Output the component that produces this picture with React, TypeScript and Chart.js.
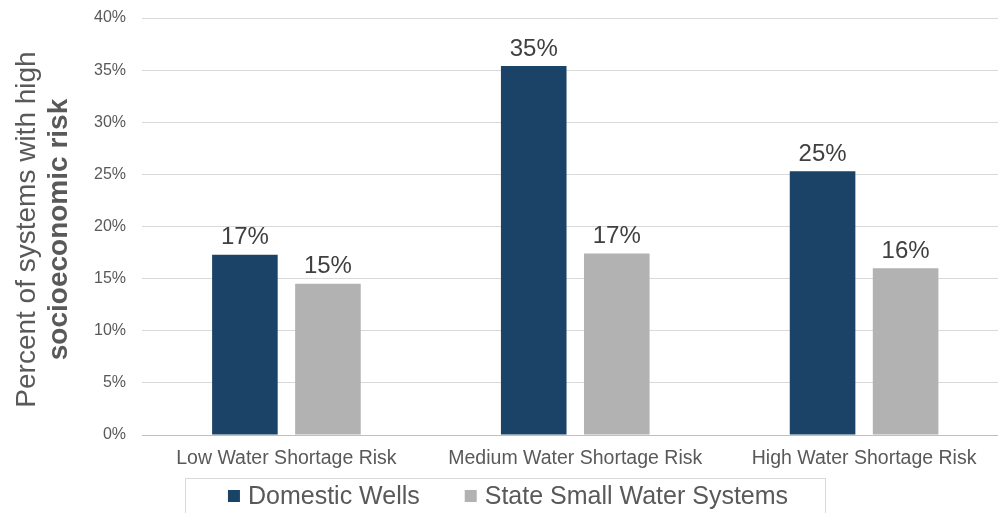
import React, { useEffect, useRef } from "react";
import { Chart, registerables } from "chart.js";

Chart.register(...registerables);

const categories = ["Low Water Shortage Risk", "Medium Water Shortage Risk", "High Water Shortage Risk"];
const domesticWells = [17.3, 35.4, 25.3];
const stateSmallWaterSystems = [14.5, 17.4, 16.0];
const seriesNames = ["Domestic Wells", "State Small Water Systems"];
const yTitleLines = ["Percent of systems with high", "socioeconomic risk"];
const yMin = 0;
const yMax = 40;
const yStep = 5;

const FONT = "'Liberation Sans', Arial, sans-serif";
const TEXT = "#595959";

const valueLabels = {
  id: "valueLabels",
  afterDatasetsDraw(chart: any) {
    const ctx = chart.ctx;
    ctx.save();
    ctx.font = `24px ${FONT}`;
    ctx.fillStyle = "#404040";
    ctx.textAlign = "center";
    ctx.textBaseline = "bottom";
    chart.data.datasets.forEach((ds: any, di: number) => {
      const meta = chart.getDatasetMeta(di);
      meta.data.forEach((bar: any, i: number) => {
        ctx.fillText(Math.round(ds.data[i]) + "%", bar.x, bar.y - 5);
      });
    });
    ctx.restore();
  },
};

const yTitle = {
  id: "yTitle",
  afterDraw(chart: any) {
    const ctx = chart.ctx;
    const { top, bottom } = chart.chartArea;
    const cy = (top + bottom) / 2 + 3;
    ctx.save();
    ctx.translate(0, cy);
    ctx.rotate(-Math.PI / 2);
    ctx.fillStyle = TEXT;
    ctx.textAlign = "center";
    ctx.textBaseline = "middle";
    ctx.font = `28px ${FONT}`;
    ctx.fillText(yTitleLines[0], 0, 27);
    ctx.font = `bold 28px ${FONT}`;
    ctx.fillText(yTitleLines[1], 0, 59);
    ctx.restore();
  },
};

const boxLegend = {
  id: "boxLegend",
  afterDraw(chart: any) {
    const ctx = chart.ctx;
    ctx.save();
    ctx.strokeStyle = "#d9d9d9";
    ctx.lineWidth = 1;
    ctx.strokeRect(185.5, 478.5, 640, 50);
    ctx.font = `25px ${FONT}`;
    const sq = 12;
    const gap = 8;
    const itemGap = 45;
    const widths = chart.data.datasets.map((d: any) => ctx.measureText(d.label).width);
    let total = 0;
    widths.forEach((w: number, i: number) => {
      total += sq + gap + w + (i > 0 ? itemGap : 0);
    });
    let x = 508 - total / 2;
    const cy = 496;
    chart.data.datasets.forEach((d: any, i: number) => {
      if (i > 0) x += itemGap;
      ctx.fillStyle = d.backgroundColor;
      ctx.fillRect(x, cy - sq / 2, sq, sq);
      x += sq + gap;
      ctx.fillStyle = TEXT;
      ctx.textAlign = "left";
      ctx.textBaseline = "middle";
      ctx.fillText(d.label, x, cy + 1);
      x += widths[i];
    });
    ctx.restore();
  },
};

export default function App() {
  const ref = useRef<HTMLCanvasElement>(null);
  useEffect(() => {
    if (!ref.current) return;
    const chart = new Chart(ref.current, {
      type: "bar",
      data: {
        labels: categories,
        datasets: [
          {
            label: seriesNames[0],
            data: domesticWells,
            backgroundColor: "#1b4368",
            categoryPercentage: 0.575,
            barPercentage: 0.79,
          },
          {
            label: seriesNames[1],
            data: stateSmallWaterSystems,
            backgroundColor: "#b2b2b2",
            categoryPercentage: 0.575,
            barPercentage: 0.79,
          },
        ],
      },
      options: {
        responsive: false,
        animation: false,
        devicePixelRatio: 1,
        layout: { padding: { left: 82, right: 1.5, top: 18, bottom: 35 } },
        plugins: {
          legend: { display: false },
          tooltip: { enabled: false },
        },
        scales: {
          x: {
            grid: { display: true, color: "rgba(0,0,0,0)", drawTicks: false },
            border: { display: true, color: "#bfbfbf", width: 1 },
            ticks: { color: TEXT, font: { family: FONT, size: 19.5 }, padding: 12, maxRotation: 0 },
            afterFit: (s: any) => {
              s.height = 43;
              s.paddingLeft = 0;
              s.paddingRight = 0;
            },
          },
          y: {
            min: yMin,
            max: yMax,
            grid: { color: "#d9d9d9", drawTicks: false },
            border: { display: false },
            ticks: {
              stepSize: yStep,
              color: TEXT,
              font: { family: FONT, size: 16 },
              padding: 16,
              callback: (v: any) => v + "%",
            },
            afterFit: (s: any) => {
              s.width = 60;
              s.paddingTop = 0;
              s.paddingBottom = 0;
            },
          },
        },
      },
      plugins: [valueLabels, yTitle, boxLegend],
    });
    return () => chart.destroy();
  }, []);
  return (
    <div style={{ position: "fixed", left: 0, top: 0, width: 998, height: 513, overflow: "hidden", background: "#fff" }}>
      <canvas ref={ref} width={1010} height={513} style={{ display: "block" }} />
    </div>
  );
}
